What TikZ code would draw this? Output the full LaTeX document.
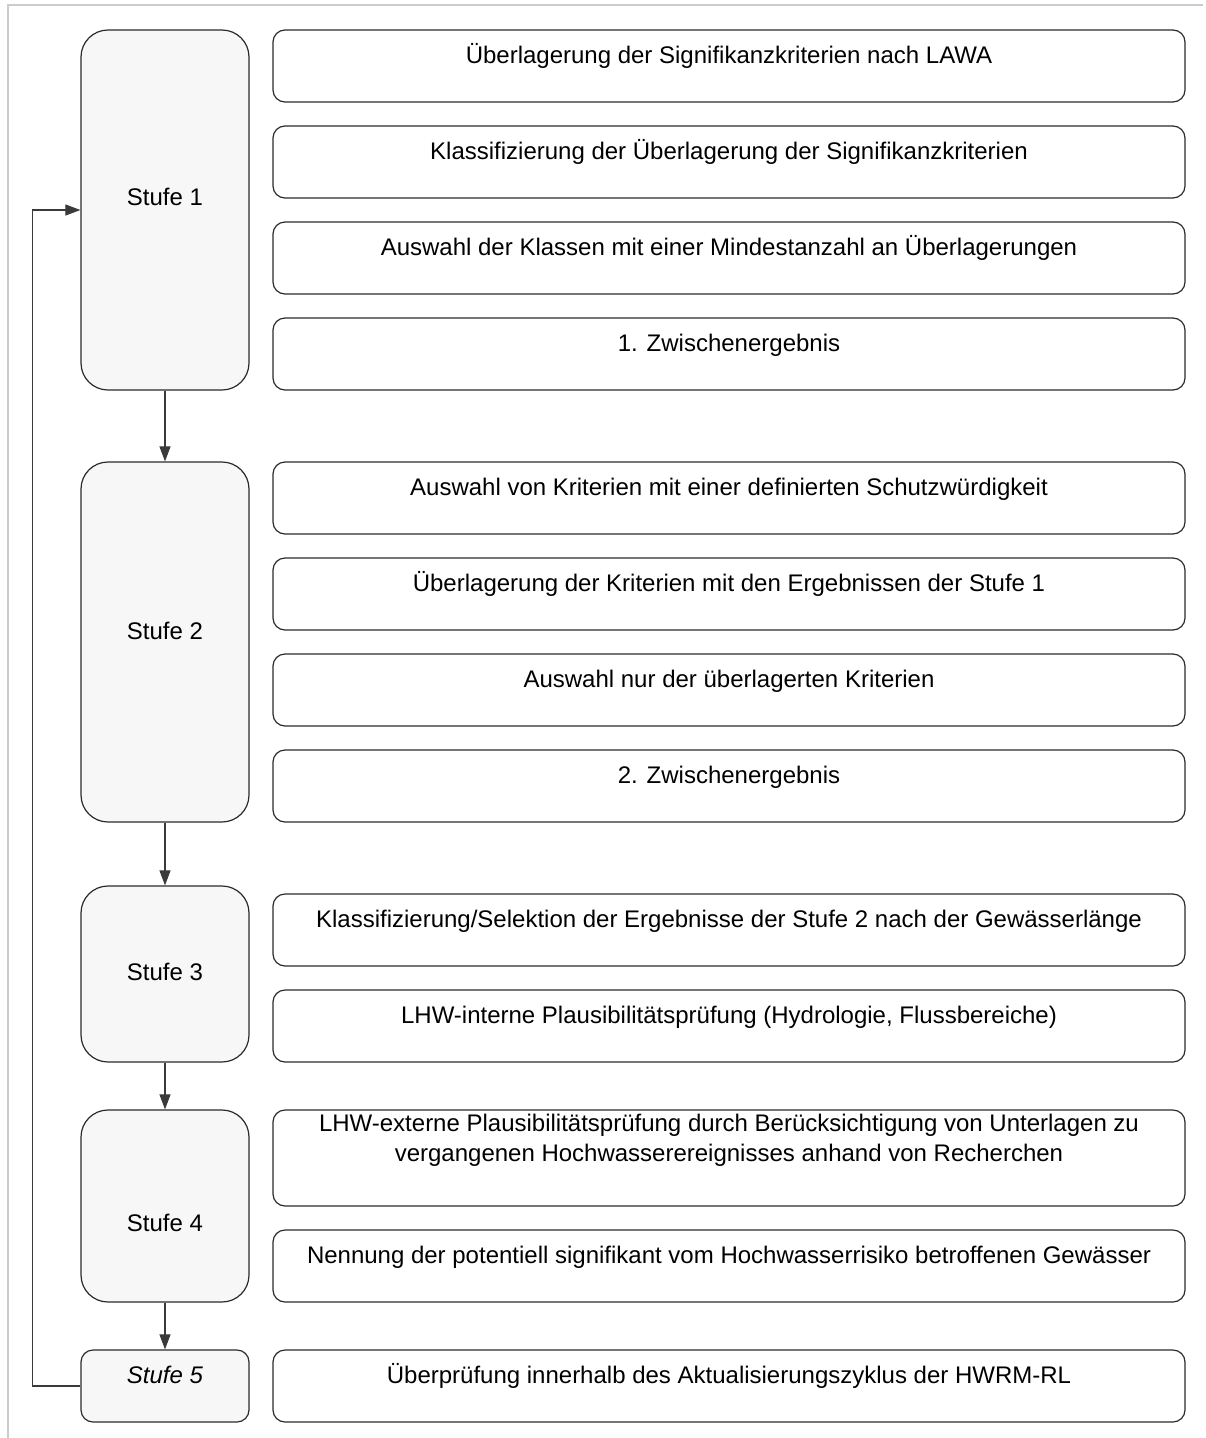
\documentclass[tikz,border=0pt]{standalone}
\usepackage{fontspec}
\setmainfont{Liberation Sans}
\usetikzlibrary{arrows.meta}

\definecolor{boxline}{HTML}{2B2B2B}
\definecolor{stagefill}{HTML}{F7F7F7}
\definecolor{framec}{HTML}{CCCCCC}
\definecolor{conn}{HTML}{3A3A3A}

\tikzset{
  base/.style={draw=boxline, line width=1.2pt, inner sep=0pt, align=center,
    font=\fontsize{24}{30}\selectfont, text height=17.2pt},
  stage/.style={base, fill=stagefill, minimum width=168pt, rounded corners=27pt},
  stepbox/.style={base, fill=white, minimum width=912pt, minimum height=72pt,
    rounded corners=12pt, text depth=22.2pt},
  flow/.style={draw=conn, line width=1.1pt, -{Triangle[length=15pt,width=11pt]}},
}

\begin{document}
\begin{tikzpicture}[x=1pt, y=-1pt]
  \useasboundingbox (0,0) rectangle (1206,1438);

  % page frame
  \draw[framec, line width=1.2pt] (8,1438) -- (8,5) -- (1203,5);

  % stages
  \node[stage, minimum height=360pt, text depth=25.8pt] (s1) at (165,210) {Stufe 1};
  \node[stage, minimum height=360pt, text depth=22pt]   (s2) at (165,642) {Stufe 2};
  \node[stage, minimum height=176pt, text depth=5.2pt]  (s3) at (165,974) {Stufe 3};
  \node[stage, minimum height=192pt, text height=50pt, text depth=0pt] (s4) at (165,1206) {Stufe 4};
  \node[stage, minimum height=72pt, rounded corners=12pt, text depth=23.2pt,
        font=\fontsize{24}{30}\selectfont\itshape] (s5) at (165,1386) {Stufe 5};

  % steps of stage 1
  \node[stepbox] (r11) at (729,66)  {Überlagerung der Signifikanzkriterien nach LAWA};
  \node[stepbox] (r12) at (729,162) {Klassifizierung der Überlagerung der Signifikanzkriterien};
  \node[stepbox] (r13) at (729,258) {Auswahl der Klassen mit einer Mindestanzahl an Überlagerungen};
  \node[stepbox] (r14) at (729,354) {1. Zwischenergebnis};

  % steps of stage 2
  \node[stepbox] (r21) at (729,498) {Auswahl von Kriterien mit einer definierten Schutzwürdigkeit};
  \node[stepbox] (r22) at (729,594) {Überlagerung der Kriterien mit den Ergebnissen der Stufe 1};
  \node[stepbox] (r23) at (729,690) {Auswahl nur der überlagerten Kriterien};
  \node[stepbox] (r24) at (729,786) {2. Zwischenergebnis};

  % steps of stage 3
  \node[stepbox] (r31) at (729,930)  {Klassifizierung/Selektion der Ergebnisse der Stufe 2 nach der Gewässerlänge};
  \node[stepbox] (r32) at (729,1026) {LHW-interne Plausibilitätsprüfung (Hydrologie, Flussbereiche)};

  % steps of stage 4
  \node[stepbox, minimum height=96pt, text depth=9.8pt] (r41) at (729,1158)
    {LHW-externe Plausibilitätsprüfung durch Berücksichtigung von Unterlagen zu\\
     vergangenen Hochwasserereignisses anhand von Recherchen};
  \node[stepbox] (r42) at (729,1266) {Nennung der potentiell signifikant vom Hochwasserrisiko betroffenen Gewässer};

  % step of stage 5
  \node[stepbox] (r5) at (729,1386) {Überprüfung innerhalb des Aktualisierungszyklus der HWRM-RL};

  % flow between stages
  \draw[flow] (s1) -- (s2);
  \draw[flow] (s2) -- (s3);
  \draw[flow] (s3) -- (s4);
  \draw[flow] (s4) -- (s5);

  % feedback from stage 5 to stage 1
  \draw[flow] (s5.west) -- ++(-48,0) |- (s1.west);
\end{tikzpicture}
\end{document}
